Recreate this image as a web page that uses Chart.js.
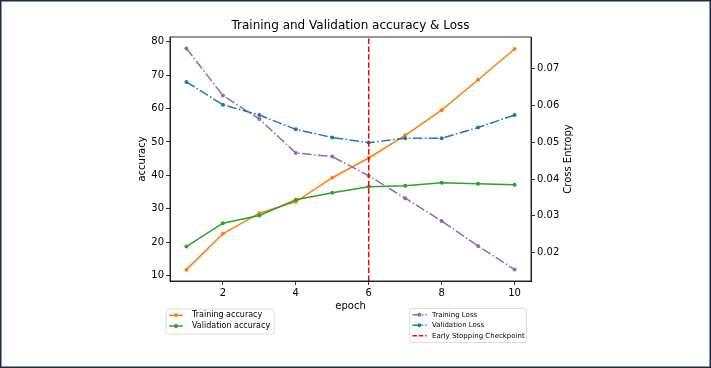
<!DOCTYPE html>
<html>
<head>
<meta charset="utf-8">
<script src="https://cdn.jsdelivr.net/npm/chart.js@4/dist/chart.umd.min.js"></script>
<style>
  html, body { margin: 0; padding: 0; background: #fff; }
  #wrap { width: 711px; height: 368px; position: relative; }
</style>
</head>
<body>
<div id="wrap"><canvas id="grafico" width="711" height="368"></canvas></div>
<script>
// datos
const epochs = [1, 2, 3, 4, 5, 6, 7, 8, 9, 10];
const trainAcc = [11.8, 22.5, 28.7, 32.1, 39.3, 45.2, 52.0, 59.5, 68.6, 77.8];
const valAcc = [18.7, 25.7, 28.0, 32.7, 34.8, 36.6, 36.9, 37.8, 37.5, 37.2];
const trainLoss = [0.0755, 0.0627, 0.0563, 0.0471, 0.0461, 0.0409, 0.0348, 0.0286, 0.0218, 0.0154];
const valLoss = [0.0664, 0.0602, 0.0574, 0.0535, 0.0513, 0.0499, 0.0511, 0.0511, 0.0540, 0.0574];
const earlyStopEpoch = 6;

const xTicks = [2, 4, 6, 8, 10];
const accTicks = [10, 20, 30, 40, 50, 60, 70, 80];
const lossTicks = [0.02, 0.03, 0.04, 0.05, 0.06, 0.07];
const accRange = [8.4, 81.4];
const lossRange = [0.0123, 0.0786];

const FONT = 'DejaVu Sans';
const dashDot = [9.6, 2.4, 1.5, 2.4];

const puntos = (ys) => epochs.map((e, i) => ({ x: e, y: ys[i] }));

const datasets = [
    {
        label: 'Training accuracy', data: puntos(trainAcc), yAxisID: 'y',
        borderColor: '#ff7f0e', backgroundColor: '#ff7f0e', borderWidth: 1.5,
        pointRadius: 2, pointBorderWidth: 0, order: 4, grupo: 0
    },
    {
        label: 'Validation accuracy', data: puntos(valAcc), yAxisID: 'y',
        borderColor: '#2ca02c', backgroundColor: '#2ca02c', borderWidth: 1.5,
        pointRadius: 2, pointBorderWidth: 0, order: 3, grupo: 0
    },
    {
        label: 'Training Loss', data: puntos(trainLoss), yAxisID: 'y1',
        borderColor: '#9467bd', backgroundColor: '#9467bd', borderWidth: 1.5, borderDash: dashDot,
        pointRadius: 2, pointBorderWidth: 0, order: 2, grupo: 1
    },
    {
        label: 'Validation Loss', data: puntos(valLoss), yAxisID: 'y1',
        borderColor: '#1f77b4', backgroundColor: '#1f77b4', borderWidth: 1.5, borderDash: dashDot,
        pointRadius: 2, pointBorderWidth: 0, order: 1, grupo: 1
    },
    {
        label: 'Early Stopping Checkpoint', yAxisID: 'y',
        data: [{ x: earlyStopEpoch, y: accRange[0] }, { x: earlyStopEpoch, y: accRange[1] }],
        borderColor: '#ff0000', borderWidth: 1.5, borderDash: [5.5, 2.4],
        pointRadius: 0, order: 0, grupo: 1, sinMarcador: true
    }
];

function fijarTicks(valores) {
    return (scale) => { scale.ticks = valores.map(v => ({ value: v })); };
}

const ejeComun = {
    grid: { drawOnChartArea: false, tickLength: 4, color: '#000', tickWidth: 0.8 },
    border: { color: '#000', width: 0.8 },
    ticks: { color: '#000', font: { family: FONT, size: 10 }, padding: 2 }
};

// textos, marco y leyendas al estilo matplotlib
const decoracion = {
    id: 'decoracion',
    afterDraw(chart) {
        const ctx = chart.ctx;
        const a = chart.chartArea;
        ctx.save();

        // marco del area
        ctx.strokeStyle = '#000';
        ctx.lineWidth = 0.8;
        ctx.strokeRect(a.left, a.top, a.right - a.left, a.bottom - a.top);

        // borde exterior
        ctx.strokeStyle = '#1b2b4b';
        ctx.lineWidth = 1.5;
        ctx.strokeRect(0.75, 0.75, 711 - 1.5, 368 - 1.5);

        ctx.fillStyle = '#000';
        ctx.textAlign = 'center';
        ctx.textBaseline = 'middle';
        ctx.font = `12px "${FONT}"`;
        ctx.fillText('Training and Validation accuracy & Loss', (a.left + a.right) / 2, 26);

        ctx.font = `10px "${FONT}"`;
        ctx.fillText('epoch', (a.left + a.right) / 2, 306);

        const mid = (a.top + a.bottom) / 2;
        ctx.save();
        ctx.translate(142, mid);
        ctx.rotate(-Math.PI / 2);
        ctx.fillText('accuracy', 0, 0);
        ctx.restore();
        ctx.save();
        ctx.translate(568, mid);
        ctx.rotate(-Math.PI / 2);
        ctx.fillText('Cross Entropy', 0, 0);
        ctx.restore();

        dibujarLeyenda(ctx, chart.data.datasets.filter(d => d.grupo === 0), 166, 309, 108, 25, 8, 10.7, 26);
        dibujarLeyenda(ctx, chart.data.datasets.filter(d => d.grupo === 1), 409.5, 308.5, 117, 34, 7, 10.5, 22.5);
        ctx.restore();
    }
};

function dibujarLeyenda(ctx, items, x, y, w, h, tam, paso, sangria) {
    ctx.save();
    ctx.fillStyle = 'rgba(255,255,255,0.8)';
    ctx.strokeStyle = '#d6d6d6';
    ctx.lineWidth = 0.8;
    ctx.beginPath();
    ctx.roundRect(x, y, w, h, 2);
    ctx.fill();
    ctx.stroke();

    ctx.font = `${tam}px "${FONT}"`;
    ctx.textAlign = 'left';
    ctx.textBaseline = 'middle';
    items.forEach((d, i) => {
        const cy = y + 6.3 + i * paso;
        ctx.strokeStyle = d.borderColor;
        ctx.lineWidth = 1.5;
        ctx.setLineDash(d.borderDash ? d.borderDash.map(v => v * 0.8) : []);
        ctx.beginPath();
        ctx.moveTo(x + 3, cy);
        ctx.lineTo(x + 17, cy);
        ctx.stroke();
        ctx.setLineDash([]);
        if (!d.sinMarcador) {
            ctx.fillStyle = d.borderColor;
            ctx.beginPath();
            ctx.arc(x + 10, cy, 2, 0, Math.PI * 2);
            ctx.fill();
        }
        ctx.fillStyle = '#000';
        ctx.fillText(d.label, x + sangria, cy);
    });
    ctx.restore();
}

new Chart(document.getElementById('grafico').getContext('2d'), {
    type: 'line',
    data: { datasets },
    options: {
        responsive: false,
        animation: false,
        layout: { padding: { left: 110, right: 120, top: 37, bottom: 47 } },
        plugins: {
            legend: { display: false },
            title: { display: false },
            tooltip: { enabled: false }
        },
        scales: {
            x: {
                ...ejeComun, type: 'linear', position: 'bottom',
                min: 0.55, max: 10.45,
                afterBuildTicks: fijarTicks(xTicks),
                afterFit: (s) => { s.height = 40; }
            },
            y: {
                ...ejeComun, position: 'left',
                min: accRange[0], max: accRange[1],
                afterBuildTicks: fijarTicks(accTicks),
                afterFit: (s) => { s.width = 60; }
            },
            y1: {
                ...ejeComun, position: 'right',
                min: lossRange[0], max: lossRange[1],
                ticks: { ...ejeComun.ticks, callback: (v) => v.toFixed(2) },
                afterBuildTicks: fijarTicks(lossTicks),
                afterFit: (s) => { s.width = 60; }
            }
        }
    },
    plugins: [decoracion]
});
</script>
</body>
</html>
